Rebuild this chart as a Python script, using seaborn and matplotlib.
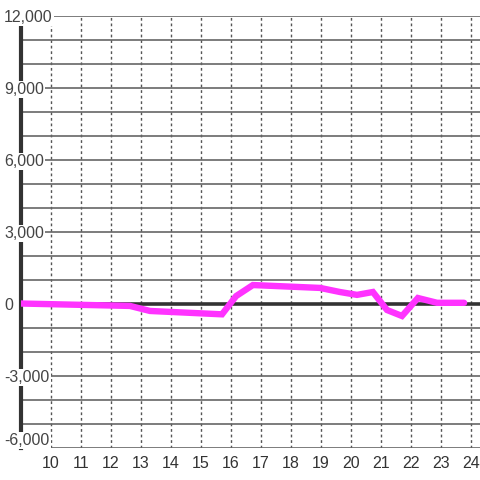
import pandas as pd
import matplotlib
matplotlib.use('Agg')
import matplotlib.pyplot as plt
import seaborn as sns

# values
hours = [9.0, 12.63, 13.3, 15.7, 16.17, 16.73, 18.97, 19.63, 20.2, 20.73, 21.2, 21.7, 22.23, 22.87, 23.77]
values = [20, -80, -290, -430, 330, 790, 670, 500, 380, 500, -250, -500, 250, 50, 50]
x_ticks = list(range(10, 25))
y_major = [-6000, -3000, 0, 3000, 6000, 9000, 12000]
y_minor = list(range(-6000, 12001, 1000))

df = pd.DataFrame({'hour': hours, 'value': values})

sns.set_style('white')
plt.rcParams['font.family'] = ['Liberation Sans', 'DejaVu Sans']

fig = plt.figure(figsize=(4.8, 4.8), dpi=100)
ax = fig.add_axes([21 / 480, 32 / 480, 459 / 480, 432 / 480])

sns.lineplot(data=df, x='hour', y='value', color='#ff33ff', linewidth=4.6,
             ax=ax, zorder=3, solid_joinstyle='miter')
ax.axhline(0, color='#333333', linewidth=2.6, zorder=2.6)

ax.set_xlim(9, 24.3)
ax.set_ylim(-6000, 12000)
ax.set_xticks(x_ticks)
ax.set_yticks(y_minor)
ax.set_yticklabels([])

ax.grid(axis='x', color='#555555', linestyle=(0, (2, 2)), linewidth=1)
ax.grid(axis='y', color='#666666', linestyle='-', linewidth=1.2)

for s in ['top', 'right', 'bottom']:
    ax.spines[s].set_visible(False)
ax.spines['left'].set_color('#333333')
ax.spines['left'].set_linewidth(3)

ax.tick_params(axis='x', length=0, pad=5.5, labelsize=11.5, labelcolor='#333333')
ax.tick_params(axis='y', length=0)

# y labels sit on top of the spine with a white box; the lowest one is kept inside
for v in y_major:
    va = 'bottom' if v == y_major[0] else 'center_baseline'
    ax.text(-17 / 459, v, f'{v:,}', transform=ax.get_yaxis_transform(),
            ha='left', va=va, fontsize=11.5, color='#444444', zorder=10,
            clip_on=False, bbox=dict(facecolor='white', edgecolor='none', pad=1.0))

ax.set_xlabel('')
ax.set_ylabel('')

fig.savefig('out.png', dpi=100)
